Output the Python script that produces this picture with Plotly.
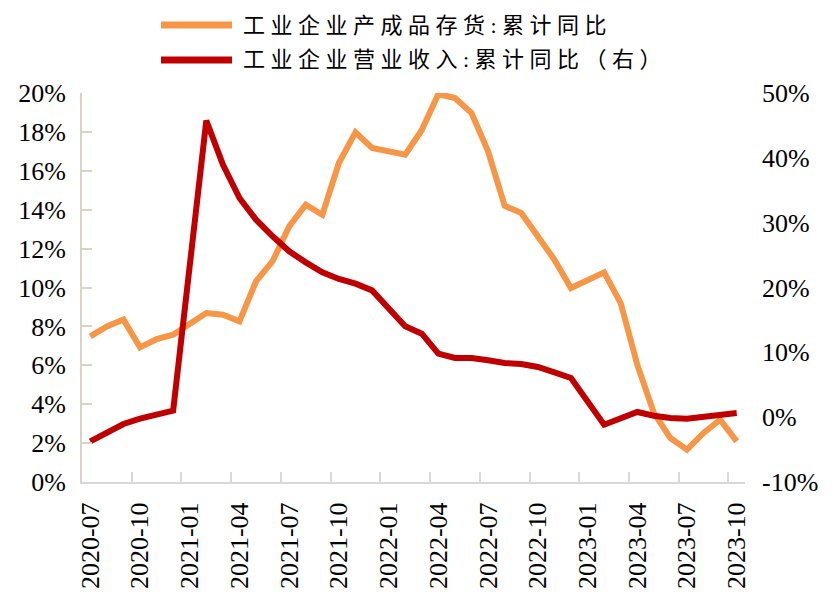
import plotly.graph_objects as go

months = [f"{y}-{m:02d}" for y, m in
          [(2020, m) for m in range(7, 13)] + [(2021, m) for m in range(1, 13)] +
          [(2022, m) for m in range(1, 13)] + [(2023, m) for m in range(1, 11)]]

inventory = [7.49, 8.00, 8.35, 6.92, 7.35, 7.57,
             None, 8.69, 8.60, 8.26, 10.32, 11.35, 13.14, 14.26, 13.74, 16.40, 17.98, 17.17,
             None, 16.83, 18.10, 19.95, 19.74, 18.97, 17.00, 14.20, 13.83, 12.63, 11.43, 9.97,
             None, 10.78, 9.20, 6.03, 3.55, 2.26, 1.66, 2.52, 3.20, 2.09]

revenue = [-3.73, -2.34, -1.05, -0.23, 0.39, 1.00,
           None, 45.73, 38.95, 33.80, 30.46, 27.90, 25.58, 23.88, 22.34, 21.31, 20.59, 19.56,
           None, 14.01, 12.88, 9.79, 9.13, 9.13, 8.77, 8.36, 8.20, 7.74, 6.92, 6.04,
           None, -1.16, -0.28, 0.80, 0.23, -0.13, -0.23, 0.03, 0.39, 0.64]

left_ticks = [0, 2, 4, 6, 8, 10, 12, 14, 16, 18, 20]
left_text = [f"{v}%" for v in left_ticks]
right_ticks = [-10, 0, 10, 20, 30, 40, 50]
right_text = [f"{v}%" for v in right_ticks]

name_inv = "工业企业产成品存货:累计同比"
name_rev = "工业企业营业收入:累计同比（右）"

c_inv = "#F79646"
c_rev = "#C00000"

fig = go.Figure()
fig.add_trace(go.Scatter(x=months, y=inventory, name=name_inv, mode="lines",
                         line=dict(color=c_inv, width=6), connectgaps=True,
                         showlegend=False, yaxis="y"))
fig.add_trace(go.Scatter(x=months, y=revenue, name=name_rev, mode="lines",
                         line=dict(color=c_rev, width=6), connectgaps=True,
                         showlegend=False, yaxis="y2"))

tick_font = dict(family="Liberation Serif, Times New Roman, serif", size=26, color="#000000")

fig.update_layout(
    width=837, height=610,
    margin=dict(l=82, r=92, t=93, b=128),
    paper_bgcolor="white", plot_bgcolor="white",
    xaxis=dict(type="category", tickmode="linear", tick0=0, dtick=3,
               tickson="boundaries", ticks="inside", ticklen=10, tickwidth=2,
               tickcolor="#D9D9D9", showline=True, linecolor="#D9D9D9", linewidth=2,
               showgrid=False, tickangle=-90, tickfont=tick_font,
               range=[-0.5, 39.5], ticklabelstandoff=8),
    yaxis=dict(range=[0, 20], tickmode="array", tickvals=left_ticks, ticktext=left_text,
               showgrid=False, zeroline=False,
               showline=True, linecolor="#D9D4C4", linewidth=2, ticks="inside",
               ticklen=10, tickwidth=2, tickcolor="#D9D4C4", tickfont=tick_font,
               ticklabelstandoff=9),
    yaxis2=dict(range=[-10, 50], tickmode="array", tickvals=right_ticks, ticktext=right_text,
                overlaying="y", side="right",
                showgrid=False, zeroline=False, showline=False, ticks="",
                tickfont=tick_font, ticklabelstandoff=16),
)

# manual legend
W, H, L, T = 663.0, 389.0, 82.0, 93.0
def px(x):
    return (x - L) / W
def py(y):
    return (T + H - y) / H

leg = [(name_inv, c_inv, 25), (name_rev, c_rev, 60)]
for txt, col, yy in leg:
    fig.add_shape(type="line", xref="paper", yref="paper",
                  x0=px(161), x1=px(232), y0=py(yy), y1=py(yy),
                  line=dict(color=col, width=7))
    fig.add_annotation(xref="paper", yref="paper", x=px(241), y=py(yy),
                       xanchor="left", yanchor="middle", showarrow=False,
                       text=f'<span style="letter-spacing:5.5px">{txt}</span>',
                       font=dict(family="Liberation Serif, Noto Sans CJK SC", size=22,
                                 color="#000000"))

fig.write_html("out.html", config={"displayModeBar": False},
               post_script="document.body.style.margin='0';")
